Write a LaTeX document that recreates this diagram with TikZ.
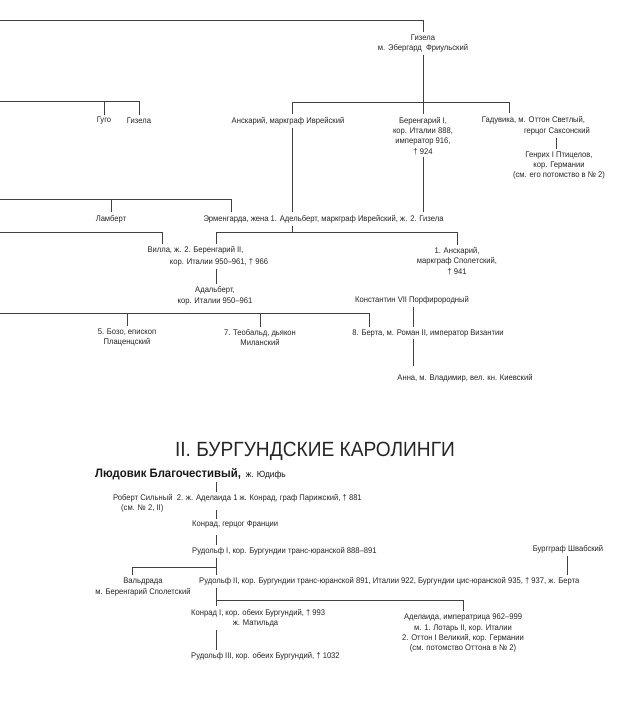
\documentclass[tikz,border=0pt]{standalone}
\usepackage{fontspec}
\setmainfont{Liberation Sans}[FakeStretch=0.93]
\begin{document}
\begin{tikzpicture}[x=1pt,y=-1pt,
  txt/.style={inner xsep=0pt, inner ysep=2.5pt, font=\fontsize{8.2}{10.3}\selectfont, align=center, text=black!85},
  conn/.style={draw=black!75, line width=0.75pt},
]
\useasboundingbox[fill=white] (0,0) rectangle (635,704);

% ---------- top part ----------
\node[txt] (gizela) at (423,43.5) {Гизела\\м. Эбергард\ \ Фриульский};
\node[txt] (gugo) at (104,121) {Гуго};
\node[txt] (gizela2) at (139,121) {Гизела};
\node[txt] (anskar) at (288,121) {Анскарий, маркграф Иврейский};
\node[txt] (berengar1) at (423,135.8) {Беренгарий I,\\кор. Италии 888,\\император 916,\\† 924};
\node[txt] (gaduv) at (533.5,120) {Гадувика, м. Оттон Светлый,};
\node[txt] (gaduv2) at (557,131) {герцог Саксонский};
\node[txt] (genrich) at (559,165.5) {Генрих I Птицелов,\\кор. Германии\\(см. его потомство в № 2)};

\node[txt] (lamb) at (111,219) {Ламберт};
\node[txt] (ermen) at (323.5,219) {Эрменгарда, жена 1. Адельберт, маркграф Иврейский, ж. 2. Гизела};
\node[txt] (villa1) at (195.5,250.7) {Вилла, ж. 2. Беренгарий II,};
\node[txt] (villa2) at (219,262) {кор. Италии 950–961, † 966};
\node[txt] (anskar2) at (457,261) {1. Анскарий,\\маркграф Сполетский,\\† 941};
\node[txt] (adalb) at (215,295.7) {Адальберт,\\кор. Италии 950–961};
\node[txt] (konst) at (412,300.7) {Константин VII Порфирородный};

\node[txt] (bozo) at (127,337.7) {5. Бозо, епископ\\Плаценцский};
\node[txt] (teob) at (260,337.7) {7. Теобальд, дьякон\\Миланский};
\node[txt] (berta) at (428,333) {8. Берта, м. Роман II, император Византии};
\node[txt] (anna) at (465,378) {Анна, м. Владимир, вел. кн. Киевский};

% connectors top
\coordinate (topL) at (0,20);
\draw[conn] (topL) -| (gizela.north);
\coordinate (lb1) at (0,101);
\draw[conn] (lb1) -| (gizela2.north);
\draw[conn] (gugo.north |- lb1) -- (gugo.north);
\coordinate (bA) at (292,102);
\coordinate (bB) at (509,102);
\draw[conn] (bA |- anskar.north) -- (bA) -- (bB) -- (bB |- gaduv.north);
\draw[conn] (gizela.south) -- (berengar1.north);
\coordinate (gx) at (556,0);
\draw[conn] (gx |- gaduv2.south) -- (gx |- genrich.north);

\coordinate (lb2) at (0,199);
\coordinate (ex) at (231,0);
\draw[conn] (lb2) -| (ex |- ermen.north);
\draw[conn] (lamb.north |- lb2) -- (lamb.north);
\draw[conn] (bA |- anskar.south) -- (bA |- ermen.north);
\draw[conn] (berengar1.south) -- (berengar1.south |- ermen.north);

\coordinate (lb3) at (0,232.3);
\coordinate (vx) at (162,0);
\coordinate (bgx) at (216,0);
\draw[conn] (lb3) -| (vx |- villa1.north);
\draw[conn] (bA |- ermen.south) -- (bA |- lb3);
\draw[conn] (bgx |- villa1.north) -- (bgx |- lb3) -| (anskar2.north);
\draw[conn] (bgx |- villa2.south) -- (bgx |- adalb.north);

\coordinate (lb4) at (0,313.3);
\coordinate (bx) at (369,0);
\draw[conn] (lb4) -| (bx |- berta.north);
\draw[conn] (bozo.north |- lb4) -- (bozo.north);
\draw[conn] (teob.north |- lb4) -- (teob.north);
\coordinate (kx) at (413,0);
\draw[conn] (kx |- konst.south) -- (kx |- berta.north);
\draw[conn, shorten >=5pt] (kx |- berta.south) -- (kx |- anna.north);

% ---------- bottom part ----------
\node[inner sep=0pt, font=\fontsize{20.6}{24}\selectfont, text=black!85] (title) at (315,451) {II. БУРГУНДСКИЕ КАРОЛИНГИ};
\node[anchor=west, inner xsep=0pt, inner ysep=2.5pt, text=black!90] (ludo) at (95,474)
  {{\fontsize{12.2}{13}\selectfont\bfseries Людовик Благочестивый,}\hspace{5pt}{\fontsize{9}{12}\selectfont ж. Юдифь}};
\node[txt, anchor=west] (robert) at (113,498.3) {Роберт Сильный\ \ 2. ж. Аделаида 1 ж. Конрад, граф Парижский, † 881};
\node[txt, anchor=west] (robert2) at (121,508.3) {(см. № 2, II)};
\node[txt, anchor=west] (konrad) at (192,525) {Конрад, герцог Франции};
\node[txt, anchor=west] (rud1) at (192,551.7) {Рудольф I, кор. Бургундии транс-юранской 888–891};
\node[txt] (burg) at (568,549) {Бургграф Швабский};
\node[txt] (valdr) at (143,587) {Вальдрада\\м. Беренгарий Сполетский};
\node[txt, anchor=west] (rud2) at (199,581.7) {Рудольф II, кор. Бургундии транс-юранской 891, Италии 922, Бургундии цис-юранской 935, † 937, ж. Берта};
\node[txt, anchor=west] (konrad1) at (191,613) {Конрад I, кор. обеих Бургундий, † 993};
\node[txt] (matil) at (255.5,623.5) {ж. Матильда};
\node[txt] (adel) at (463,633.3) {Аделаида, императрица 962–999\\м. 1. Лотарь II, кор. Италии\\2. Оттон I Великий, кор. Германии\\(см. потомство Оттона в № 2)};
\node[txt, anchor=west] (rud3) at (191,656.7) {Рудольф III, кор. обеих Бургундий, † 1032};

\coordinate (tx) at (216,0);
\draw[conn] (tx |- ludo.south) -- (tx |- robert.north);
\draw[conn, shorten <=5pt] (tx |- robert.south) -- (tx |- konrad.north);
\draw[conn, shorten <=4pt] (tx |- konrad.south) -- (tx |- rud1.north);
\draw[conn] (tx |- rud1.south) -- (tx |- rud2.north);
\coordinate (vb) at (132,567);
\draw[conn] (tx |- vb) -- (vb) -- (vb |- valdr.north);
\coordinate (bgx2) at (567,0);
\draw[conn] (bgx2 |- burg.south) -- (bgx2 |- rud2.north);
\coordinate (ab) at (0,600);
\draw[conn] (tx |- rud2.south) -- (tx |- konrad1.north);
\draw[conn] (tx |- ab) -| (adel.north);
\draw[conn] (tx |- matil.south) -- (tx |- rud3.north);
\end{tikzpicture}
\end{document}
